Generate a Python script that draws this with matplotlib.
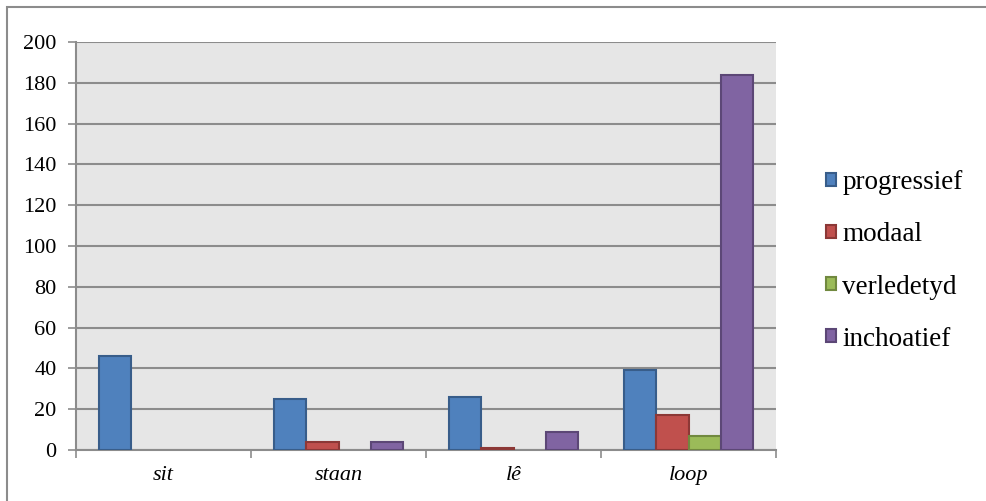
import matplotlib.pyplot as plt
import numpy as np

plt.rcParams['font.family'] = ['Liberation Serif', 'DejaVu Serif']

verbs = ['sit', 'staan', 'lê', 'loop']
series = ['progressief', 'modaal', 'verledetyd', 'inchoatief']
progressief = [46, 25, 26, 39]
modaal = [0, 4, 1, 17]
verledetyd = [0, 0, 0, 7]
inchoatief = [0, 4, 9, 184]
yticks = [0, 20, 40, 60, 80, 100, 120, 140, 160, 180, 200]

colors = ['#4F81BD', '#C0504D', '#9BBB59', '#8064A2']
edges = ['#385D8A', '#8C3836', '#71893F', '#5C4776']

fig = plt.figure(figsize=(9.87, 5.01), dpi=100)
ax = fig.add_axes([76 / 987, 1 - 450 / 501, 700 / 987, 408 / 501])
ax.set_facecolor('#E6E6E6')

# outer chart border
fig.patches.append(plt.Rectangle((7 / 987, -0.1), 1.1, 1 - 7 / 501 + 0.1,
                                 transform=fig.transFigure, fill=False,
                                 edgecolor='#8C8C8C', linewidth=1.5))

x = np.arange(len(verbs))
w = 0.183
for i, (vals, name) in enumerate(zip([progressief, modaal, verledetyd, inchoatief], series)):
    pos = x + (i - 1.5) * w
    mask = [v > 0 for v in vals]
    ax.bar(pos[mask], np.array(vals)[mask], width=w, color=colors[i],
           edgecolor=edges[i], linewidth=1.5, label=name, zorder=3)

ax.set_xlim(-0.5, len(verbs) - 0.5)
ax.set_ylim(0, 200)
ax.set_yticks(yticks)
ax.tick_params(axis='y', labelsize=16, length=6, color='#8C8C8C', width=1.2, pad=8)
ax.yaxis.grid(True, color='#8C8C8C', linewidth=1.5, zorder=1)
ax.set_axisbelow(True)

ax.set_xticks(np.arange(len(verbs) + 1) - 0.5)
ax.set_xticklabels([])
ax.tick_params(axis='x', length=6, color='#8C8C8C', width=1.2)
for xi, v in zip(x, verbs):
    ax.text(xi, -12.5, v, ha='center', va='center', fontsize=16, style='italic')

for side in ['top', 'right']:
    ax.spines[side].set_visible(False)
for side in ['left', 'bottom']:
    ax.spines[side].set_color('#8C8C8C')
    ax.spines[side].set_linewidth(1.5)

leg = fig.legend(loc='center left', bbox_to_anchor=(815 / 987, 1 - 261 / 501),
                 frameon=False, fontsize=19.5, handlelength=0.36, handleheight=0.36,
                 handletextpad=0.25, labelspacing=1.0, borderaxespad=0)

fig.savefig('out.png', dpi=100)
